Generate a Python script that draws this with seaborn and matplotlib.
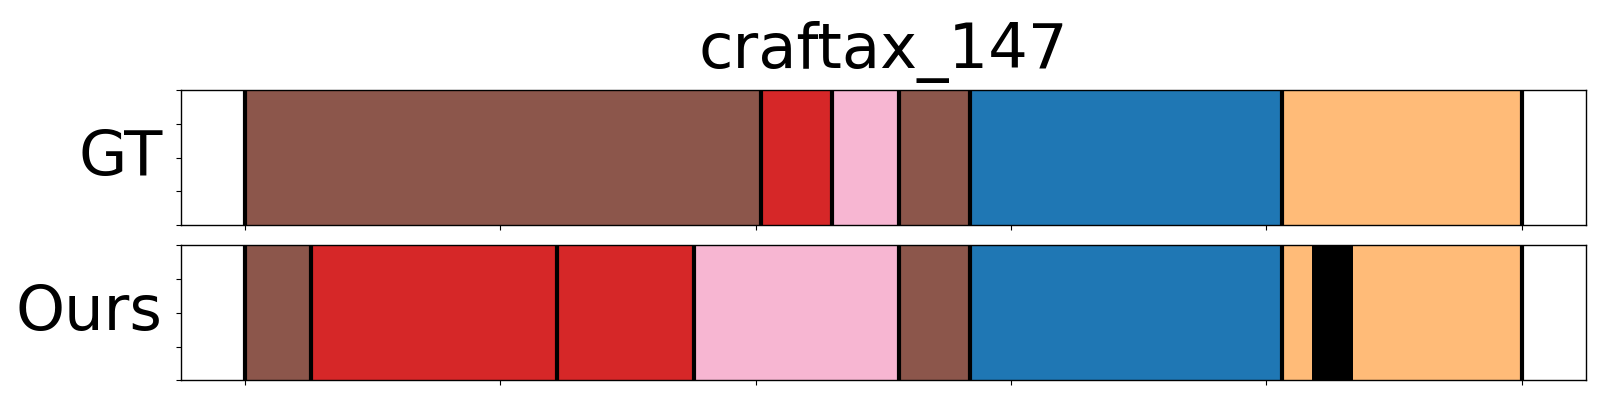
import matplotlib
matplotlib.use("Agg")
import matplotlib.pyplot as plt
import seaborn as sns
import pandas as pd

# ---- data ----
title = "craftax_147"
row_names = ["GT", "Ours"]

# segment classes and end positions (segments start at 0)
gt_classes = ["brown", "red", "pink", "brown", "blue", "orange"]
gt_ends = [101, 115, 128, 142, 203, 250]

ours_classes = ["brown", "red", "red", "pink", "brown", "blue", "orange", "black", "orange"]
ours_ends = [13, 61, 88, 128, 142, 203, 209, 217, 250]

# boundary lines drawn in each row
gt_bounds = [0, 101, 115, 128, 142, 203, 250]
ours_bounds = [0, 13, 61, 88, 128, 142, 203, 250]

x_ticks = [0, 50, 100, 150, 200, 250]

tab20 = sns.color_palette("tab20")
class_colors = {
    "blue": tab20[0],
    "orange": tab20[3],
    "red": tab20[6],
    "brown": tab20[10],
    "pink": tab20[13],
    "black": (0, 0, 0),
}

fig = plt.figure(figsize=(16, 4), dpi=100)
ax_gt = fig.add_axes([0.1133, 0.4375, 0.991 - 0.1133, 0.774 - 0.4375])
ax_ours = fig.add_axes([0.1133, 0.049, 0.991 - 0.1133, 0.387 - 0.049])

rows = [
    (ax_gt, "GT", gt_classes, gt_ends, gt_bounds),
    (ax_ours, "Ours", ours_classes, ours_ends, ours_bounds),
]

for ax, name, classes, ends, bounds in rows:
    df = pd.DataFrame({"cls": classes, "end": ends, "row": name})
    # draw cumulative bars from longest to shortest so each segment shows
    df = df.sort_values("end", ascending=False)
    for _, r in df.iterrows():
        sns.barplot(x=[r["end"]], y=[name], color=class_colors[r["cls"]],
                    width=1.0, linewidth=0, orient="h", ax=ax,
                    saturation=1, err_kws={"linewidth": 0})
    ax.vlines(bounds, -0.5, 0.5, colors="black", linewidth=3, zorder=5)
    ax.set_xlim(-12.5, 262.5)
    ax.set_ylim(-0.5, 0.5)
    ax.set_xticks(x_ticks)
    ax.set_xticklabels([])
    ax.set_yticks([-0.5, -0.25, 0, 0.25, 0.5])
    ax.set_yticklabels([])
    ax.set_xlabel("")
    ax.set_ylabel(name, rotation=0, fontsize=45, ha="right", va="center",
                  labelpad=6.5)
    for s in ax.spines.values():
        s.set_visible(True)
        s.set_color("black")
        s.set_linewidth(1.0)
        s.set_zorder(6)

ax_gt.set_title(title, fontsize=45, pad=16)

fig.savefig("out.png", dpi=100)
